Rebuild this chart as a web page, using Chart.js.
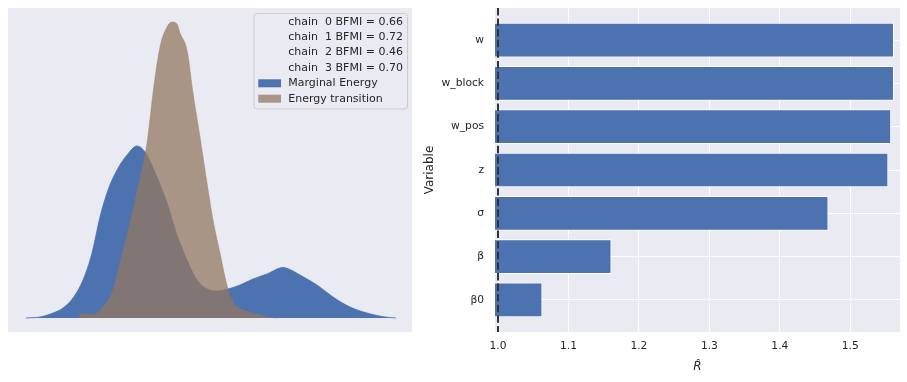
<!DOCTYPE html>
<html><head><meta charset="utf-8">
<script src="https://cdn.jsdelivr.net/npm/chart.js@4.4.1/dist/chart.umd.min.js"></script>
<style>
html,body{margin:0;padding:0;background:#fff;}
#wrap{position:relative;width:907px;height:382px;overflow:hidden;}
#left{position:absolute;left:0;top:0;}
#right{position:absolute;left:420px;top:0;}
</style></head><body>
<div id="wrap">
<canvas id="left" width="420" height="382"></canvas>
<canvas id="right" width="487" height="382"></canvas>
</div>
<script>
// ---- Left panel: energy plot (KDE estimates) ----
const seriesNames = ['Marginal Energy', 'Energy transition'];
const chainIds = [0, 1, 2, 3];
const bfmiValues = [0.66, 0.72, 0.46, 0.70];

const marginalEnergyX = [-4.97, -4.40, -3.88, -3.48, -3.08, -2.68, -2.32, -2.00, -1.68, -1.32, -0.92, -0.52, -0.20, 0.28, 0.68, 1.08, 1.48, 1.88, 2.28, 2.72, 3.12, 3.60, 4.12, 4.68, 5.32, 5.72, 6.00, 6.68, 7.32, 8.00, 8.68, 9.32, 9.84];
const marginalEnergyDensity = [0.000, 0.001, 0.005, 0.010, 0.020, 0.038, 0.065, 0.101, 0.128, 0.148, 0.163, 0.172, 0.166, 0.141, 0.115, 0.083, 0.058, 0.038, 0.029, 0.027, 0.029, 0.033, 0.039, 0.044, 0.0505, 0.047, 0.043, 0.033, 0.021, 0.011, 0.005, 0.0013, 0.000];

const energyTransitionX = [-2.83, -2.32, -2.12, -1.88, -1.48, -1.20, -0.80, -0.48, -0.12, 0.12, 0.40, 0.68, 0.88, 1.08, 1.20, 1.48, 1.72, 2.00, 2.28, 2.52, 2.80, 3.00, 3.12, 3.32, 3.72, 4.12, 4.68, 5.08];
const energyTransitionDensity = [0.0037, 0.0035, 0.005, 0.011, 0.028, 0.055, 0.095, 0.131, 0.175, 0.225, 0.271, 0.291, 0.296, 0.294, 0.285, 0.268, 0.225, 0.181, 0.135, 0.098, 0.065, 0.041, 0.029, 0.016, 0.008, 0.005, 0.001, 0.000];

// ---- Right panel: R-hat per variable ----
const varNames = ['w', 'w_block', 'w_pos', 'z', 'σ', 'β', 'β0'];
const rhatValues = [1.562, 1.562, 1.558, 1.554, 1.469, 1.161, 1.063];
const xTickValues = [1.0, 1.1, 1.2, 1.3, 1.4, 1.5];
const refRhat = 1.0;

Chart.defaults.font.family = "'DejaVu Sans', sans-serif";
Chart.defaults.color = '#262626';

const BG = '#EAEAF2';
const BLUE = '#4C72B0';
const BROWN = 'rgba(147,120,96,0.75)';

const bgPlugin = {
  id: 'bgPlugin',
  beforeDraw(chart) {
    const {ctx, chartArea: a} = chart;
    ctx.save();
    ctx.fillStyle = BG;
    ctx.fillRect(a.left, a.top, a.right - a.left, a.bottom - a.top);
    ctx.restore();
  }
};

const energyLegend = {
  id: 'energyLegend',
  afterDraw(chart) {
    const {ctx, chartArea: a} = chart;
    const w = 153.5, h = 95.5;
    const right = a.right - 4.5, top = a.top + 5.5, left = right - w;
    ctx.save();
    ctx.beginPath();
    ctx.roundRect(left, top, w, h, 3);
    ctx.fillStyle = 'rgba(234,234,242,0.85)';
    ctx.fill();
    ctx.strokeStyle = '#cccccc';
    ctx.lineWidth = 1;
    ctx.stroke();
    ctx.font = "11px 'DejaVu Sans'";
    ctx.fillStyle = '#262626';
    ctx.textBaseline = 'middle';
    ctx.textAlign = 'left';
    const labels = chainIds.map((c, i) => 'chain ' + String(c).padStart(2, ' ') + ' BFMI = ' + bfmiValues[i].toFixed(2));
    const rows = labels.map(t => ({text: t, color: null})).concat(
      [{text: seriesNames[0], color: BLUE}, {text: seriesNames[1], color: BROWN}]);
    rows.forEach((r, i) => {
      const y = top + 8.2 + i * 15.4;
      if (r.color) {
        ctx.fillStyle = r.color;
        ctx.fillRect(left + 4.3, y - 4, 22.7, 8);
      }
      ctx.fillStyle = '#262626';
      ctx.fillText(r.text, left + 34.3, y);
    });
    ctx.restore();
  }
};

new Chart(document.getElementById('left'), {
  type: 'line',
  data: {
    datasets: [
      {
        label: seriesNames[1],
        data: energyTransitionX.map((x, i) => ({x: x, y: energyTransitionDensity[i]})),
        fill: 'origin',
        backgroundColor: BROWN,
        borderColor: 'rgba(147,120,96,0.5)',
        borderWidth: 0.8,
        pointRadius: 0,
        cubicInterpolationMode: 'monotone',
        order: 0
      },
      {
        label: seriesNames[0],
        data: marginalEnergyX.map((x, i) => ({x: x, y: marginalEnergyDensity[i]})),
        fill: 'origin',
        backgroundColor: BLUE,
        borderColor: BLUE,
        borderWidth: 0.8,
        pointRadius: 0,
        cubicInterpolationMode: 'monotone',
        order: 1
      }
    ]
  },
  options: {
    responsive: false,
    animation: false,
    layout: {padding: {left: 8, right: 8, top: 8, bottom: 50}},
    plugins: {legend: {display: false}, tooltip: {enabled: false}},
    scales: {
      x: {type: 'linear', min: -5.68, max: 10.48, display: false},
      y: {type: 'linear', min: -0.014, max: 0.310, display: false}
    }
  },
  plugins: [bgPlugin, energyLegend]
});

const refLine = {
  id: 'refLine',
  afterDatasetsDraw(chart) {
    const {ctx, chartArea: a, scales} = chart;
    const x = scales.x.getPixelForValue(refRhat);
    ctx.save();
    ctx.strokeStyle = '#333333';
    ctx.lineWidth = 2;
    ctx.setLineDash([7.4, 3.2]);
    ctx.beginPath();
    ctx.moveTo(x, a.top);
    ctx.lineTo(x, a.bottom);
    ctx.stroke();
    ctx.restore();
  }
};

const zeroPad = s => { s.paddingTop = 0; s.paddingBottom = 0; s.paddingLeft = 0; s.paddingRight = 0; };

new Chart(document.getElementById('right'), {
  type: 'bar',
  data: {
    datasets: [{
      data: rhatValues.map((v, i) => ({x: v, y: i})),
      backgroundColor: BLUE,
      borderColor: '#ffffff',
      borderWidth: 1,
      borderSkipped: 'start',
      barPercentage: 0.8,
      categoryPercentage: 1.0
    }]
  },
  options: {
    indexAxis: 'y',
    responsive: false,
    animation: false,
    layout: {padding: {left: 0, top: 8, right: 7, bottom: 0}},
    plugins: {legend: {display: false}, tooltip: {enabled: false}},
    scales: {
      x: {
        type: 'linear',
        min: 0.99574,
        max: 1.57054,
        offset: false,
        afterBuildTicks: s => { s.ticks = xTickValues.map(v => ({value: v})); },
        afterFit: s => { s.height = 50; zeroPad(s); },
        grid: {color: '#ffffff', lineWidth: 1, drawTicks: false, offset: false},
        border: {display: false},
        ticks: {padding: 8, font: {size: 10.7}, color: '#262626', maxRotation: 0, autoSkip: false,
                callback: v => Number(v).toFixed(1)},
        title: {display: true, text: 'R\u0302', font: {size: 12, style: 'italic'}, color: '#262626',
                padding: {top: 0, bottom: 8}}
      },
      y: {
        type: 'linear',
        reverse: true,
        min: -0.74,
        max: 6.74,
        offset: false,
        afterBuildTicks: s => { s.ticks = varNames.map((_, i) => ({value: i})); },
        afterFit: s => { s.width = 75; zeroPad(s); },
        grid: {color: '#ffffff', lineWidth: 1, drawTicks: false, offset: false},
        border: {display: false},
        ticks: {padding: 11, font: {size: 10.7}, color: '#262626', autoSkip: false,
                callback: v => varNames[v]},
        title: {display: true, text: 'Variable', font: {size: 12}, color: '#262626',
                padding: {top: 3, bottom: 0}}
      }
    }
  },
  plugins: [bgPlugin, refLine]
});
</script>
</body></html>
